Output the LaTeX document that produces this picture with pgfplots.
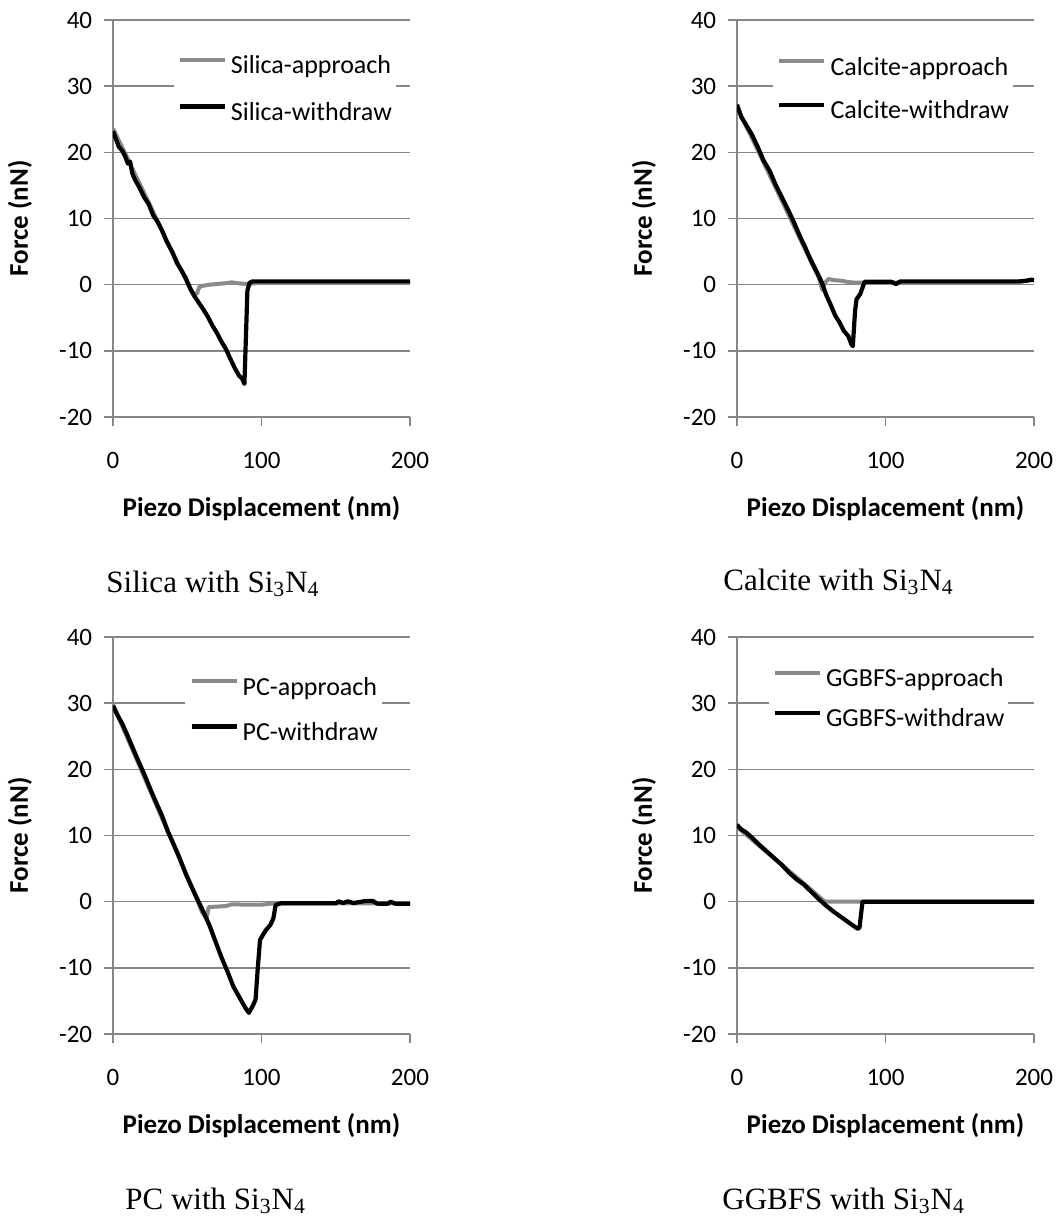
\documentclass[border=0pt]{standalone}
\usepackage{fontspec}
\setmainfont{Carlito}
\newfontfamily\capfont{Liberation Serif}
\usepackage{pgfplots}
\pgfplotsset{compat=1.18}

\definecolor{gridc}{HTML}{868686}
\definecolor{apprc}{HTML}{8A8A8A}

\pgfplotsset{
  fpanel/.style={
    scale only axis, width=148.5pt, height=198.5pt,
    xmin=0, xmax=200, ymin=-20, ymax=40,
    xtick={0,100,200}, ytick={-20,-10,...,40},
    axis x line=bottom, axis y line=left,
    axis line style={-, draw=gridc, line width=0.75pt},
    ymajorgrids, grid style={draw=gridc, line width=0.75pt},
    tick align=outside, major tick length=4.5pt,
    tick style={draw=gridc, line width=0.75pt},
    ticklabel style={font=\fontsize{12.5}{15}\selectfont, text=black},
    xticklabel shift=9.5pt, yticklabel shift=2.4pt,
    /pgf/number format/assume math mode=true,
    xlabel={Piezo Displacement (nm)}, ylabel={Force (nN)},
    xlabel style={at={(axis description cs:0.5,0)}, anchor=center, yshift=-46pt,
      font=\bfseries\fontsize{13.5}{15}\selectfont},
    ylabel style={at={(axis description cs:0,0.5)}, anchor=center, yshift=46.5pt,
      font=\bfseries\fontsize{13.5}{15}\selectfont},
    legend cell align=left,
    legend image code/.code={\draw[##1] (0pt,4pt) -- (22.5pt,4pt);},
    legend style={draw=none, fill=white, inner xsep=2pt, inner ysep=8pt,
      anchor=north west, column sep=2pt,
      font=\fontsize{13}{15}\selectfont,
      nodes={inner sep=0pt, text height=9pt, text depth=3pt}},
  },
  appr/.style={draw=apprc, line width=2pt, line join=round, mark=none},
  withd/.style={draw=black, line width=2.1pt, line join=round, mark=none},
}

\begin{document}
\begin{tikzpicture}
\useasboundingbox (0,0) rectangle (530pt,-608pt);

% ---------------- Silica ----------------
\begin{axis}[fpanel, at={(56.5pt,-208.5pt)}, anchor=south west,
  legend style={at={(0.203,0.951)}, row sep=11.35pt}]
\addplot[appr] coordinates {(0,23.6) (5,21.3) (10,19.0) (15,16.6) (20,14.3) (25,12.0)
  (30,9.6) (35,7.2) (40,4.9) (45,2.6) (50,0.3) (54,-1.3) (56.5,-1.4) (58,-0.4)
  (60,-0.2) (65,0.0) (70,0.1) (75,0.2) (80,0.35) (85,0.2) (90,0.1) (95,0.2)
  (100,0.3) (150,0.3) (200,0.3)};
\addlegendentry{Silica-approach}
\addplot[withd] coordinates {(0,23.2) (2,22.0) (4,20.8) (6,20.3) (8,19.5) (10,18.3)
  (11.5,18.6) (13,16.8) (15,15.8) (18,14.6) (21,13.2) (24,12.2) (27,10.5) (30,9.5)
  (33,8.2) (36,6.6) (40,4.9) (43,3.3) (46,2.2) (49,1.0) (52,-0.6) (55,-1.8)
  (58,-2.8) (61,-3.8) (64,-4.9) (67,-6.2) (70,-7.3) (73,-8.6) (76,-9.7) (79,-11.2)
  (82,-12.6) (85,-13.8) (87,-14.2) (88.5,-15.0) (89.5,-8.0) (90.5,-0.9) (92,0.3)
  (94,0.5) (150,0.5) (200,0.5)};
\addlegendentry{Silica-withdraw}
\end{axis}

% ---------------- Calcite ----------------
\begin{axis}[fpanel, at={(368.5pt,-208.5pt)}, anchor=south west,
  legend style={at={(0.121,0.947)}, row sep=9.7pt}]
\addplot[appr] coordinates {(0,26.8) (10,22.2) (20,17.5) (30,12.8) (40,8.1) (50,3.4)
  (55,1.1) (57.5,-0.8) (59,0.2) (61.5,0.85) (65,0.7) (70,0.6) (75,0.4) (80,0.3)
  (90,0.3) (150,0.35) (190,0.4) (195,0.6) (200,0.7)};
\addlegendentry{Calcite-approach}
\addplot[withd] coordinates {(0,27.2) (3,25.3) (6,24.2) (10,22.7) (14,20.8) (18,18.7)
  (22,17.2) (26,15.1) (30,13.3) (34,11.5) (38,9.6) (42,7.5) (46,5.6) (50,3.6)
  (54,1.8) (57,0.4) (60,-1.5) (63,-3.0) (66,-4.6) (69,-5.7) (72,-7.0) (75,-7.8)
  (77,-9.0) (78,-9.3) (79.5,-4.0) (80.5,-2.2) (83,-1.4) (86,0.45) (100,0.45)
  (104,0.45) (107,0.1) (110,0.5) (150,0.5) (190,0.5) (195,0.6) (198,0.75) (200,0.7)};
\addlegendentry{Calcite-withdraw}
\end{axis}

% ---------------- PC ----------------
\begin{axis}[fpanel, at={(56.5pt,-517pt)}, anchor=south west,
  legend style={at={(0.2425,0.9395)}, row sep=10.5pt}]
\addplot[appr] coordinates {(0,29.8) (10,24.6) (20,19.4) (30,14.2) (40,9.0) (50,3.8)
  (55,1.2) (60,-1.6) (63,-2.5) (64.5,-0.8) (70,-0.75) (76,-0.65) (80,-0.4)
  (90,-0.45) (100,-0.45) (106,-0.3) (110,-0.25) (150,-0.25) (200,-0.25)};
\addlegendentry{PC-approach}
\addplot[withd] coordinates {(0,29.6) (3,28.2) (6,27.0) (10,25.0) (13,23.4) (17,21.3)
  (21,19.3) (25,17.1) (29,15.0) (33,13.0) (37,10.6) (41,8.6) (45,6.5) (49,4.2)
  (53,2.2) (57,0.3) (61,-1.6) (65,-3.6) (69,-6.0) (73,-8.4) (77,-10.5) (81,-12.8)
  (84,-14.0) (87,-15.2) (89,-16.0) (91.5,-16.8) (94,-15.8) (96,-14.8) (97.5,-10.0)
  (99,-5.8) (101,-5.0) (103,-4.3) (106,-3.5) (108,-2.5) (109.5,-0.5) (113,-0.25)
  (150,-0.25) (152,0.05) (155,-0.2) (158,0.05) (162,-0.2) (170,0.1) (175,0.1)
  (178,-0.3) (185,-0.3) (187,0.0) (190,-0.3) (200,-0.3)};
\addlegendentry{PC-withdraw}
\end{axis}

% ---------------- GGBFS ----------------
\begin{axis}[fpanel, at={(368.5pt,-517pt)}, anchor=south west,
  legend style={at={(0.106,0.961)}, row sep=8pt}]
\addplot[appr] coordinates {(0,11.3) (10,9.4) (20,7.5) (30,5.6) (40,3.7) (50,1.8)
  (55,0.8) (59,0.05) (61,0) (150,0) (200,0)};
\addlegendentry{GGBFS-approach}
\addplot[withd] coordinates {(0,11.6) (3,10.9) (6,10.5) (10,9.7) (15,8.6) (20,7.6)
  (25,6.6) (30,5.6) (35,4.4) (40,3.4) (45,2.6) (50,1.5) (55,0.4) (60,-0.6)
  (65,-1.5) (70,-2.3) (75,-3.1) (80,-3.9) (81.5,-4.1) (82.5,-3.9) (84.5,0)
  (150,0) (200,0)};
\addlegendentry{GGBFS-withdraw}
\end{axis}

% ---------------- captions ----------------
\node[anchor=base west, inner sep=0pt, font=\capfont\fontsize{15.5}{19}\selectfont]
  at (53pt,-296pt) {Silica with Si\textsubscript{3}N\textsubscript{4}};
\node[anchor=base west, inner sep=0pt, font=\capfont\fontsize{15.5}{19}\selectfont]
  at (361.5pt,-295pt) {Calcite with Si\textsubscript{3}N\textsubscript{4}};
\node[anchor=base west, inner sep=0pt, font=\capfont\fontsize{15.5}{19}\selectfont]
  at (62.5pt,-604.5pt) {PC with Si\textsubscript{3}N\textsubscript{4}};
\node[anchor=base west, inner sep=0pt, font=\capfont\fontsize{15.5}{19}\selectfont]
  at (361pt,-604.5pt) {GGBFS with Si\textsubscript{3}N\textsubscript{4}};
\end{tikzpicture}
\end{document}
